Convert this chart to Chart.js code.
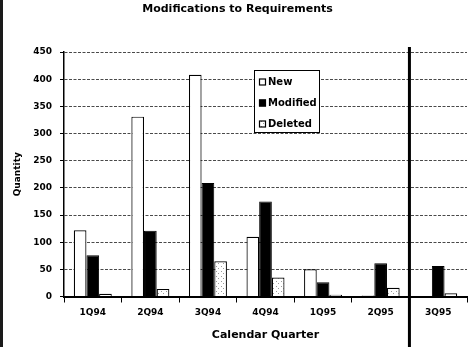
<!DOCTYPE html>
<html>
<head>
<meta charset="utf-8">
<title>Modifications to Requirements</title>
<script src="https://cdn.jsdelivr.net/npm/chart.js@4.4.1/dist/chart.umd.min.js"></script>
<style>
  html, body { margin: 0; padding: 0; background: #ffffff; }
  canvas { display: block; }
</style>
</head>
<body>
<canvas id="chart" width="475" height="347"></canvas>
<script>
// Requirement changes per calendar quarter
const quarters = ['1Q94', '2Q94', '3Q94', '4Q94', '1Q95', '2Q95', '3Q95'];
const newCounts = [122, 331, 408, 110, 50, 2, 0];
const modifiedCounts = [76, 121, 209, 175, 26, 61, 56];
const deletedCounts = [5, 14, 65, 35, 3, 16, 6];
const quantityTicks = [0, 50, 100, 150, 200, 250, 300, 350, 400, 450];

// Light stipple fill used for the "Deleted" series
function stipple() {
  const c = document.createElement('canvas');
  c.width = 5; c.height = 5;
  const g = c.getContext('2d');
  g.fillStyle = '#ffffff';
  g.fillRect(0, 0, 5, 5);
  g.fillStyle = '#9a9a9a';
  g.fillRect(1, 1, 1, 1);
  g.fillRect(3, 3, 1, 1);
  return g.createPattern(c, 'repeat');
}
const deletedFill = stipple();

Chart.defaults.font.family = "'DejaVu Sans', sans-serif";
Chart.defaults.font.weight = 'bold';
Chart.defaults.color = '#000000';

// Heavy divider between 2Q95 and 3Q95, plus the dark left frame edge
const dividerPlugin = {
  id: 'divider',
  afterDatasetsDraw(chart) {
    const { ctx, scales: { x } } = chart;
    const xPos = (x.getPixelForValue(5) + x.getPixelForValue(6)) / 2;
    ctx.save();
    ctx.strokeStyle = '#000000';
    ctx.lineWidth = 3;
    ctx.beginPath();
    ctx.moveTo(xPos, 47);
    ctx.lineTo(xPos, chart.height);
    ctx.stroke();
    ctx.fillStyle = '#1a1a1a';
    ctx.fillRect(0, 0, 3, chart.height);
    ctx.restore();
  }
};

// Boxed legend inside the plot
const boxLegendPlugin = {
  id: 'boxLegend',
  afterDraw(chart) {
    const { ctx } = chart;
    const left = 254.5, top = 70.5, w = 65, h = 62;
    ctx.save();
    ctx.fillStyle = '#ffffff';
    ctx.fillRect(left, top, w, h);
    ctx.strokeStyle = '#000000';
    ctx.lineWidth = 1;
    ctx.strokeRect(left, top, w, h);
    ctx.font = "bold 10px 'DejaVu Sans', sans-serif";
    ctx.textBaseline = 'middle';
    ctx.textAlign = 'left';
    chart.data.datasets.forEach((ds, i) => {
      const cy = 82 + i * 21;
      ctx.fillStyle = ds.backgroundColor;
      ctx.fillRect(259, cy - 3.5, 7, 7);
      ctx.strokeStyle = '#000000';
      ctx.lineWidth = 1.2;
      ctx.strokeRect(259.5, cy - 3, 6, 6);
      ctx.fillStyle = '#000000';
      ctx.fillText(ds.label, 268, cy + 0.5);
    });
    ctx.restore();
  }
};

new Chart(document.getElementById('chart'), {
  type: 'bar',
  data: {
    labels: quarters,
    datasets: [
      { label: 'New', data: newCounts, backgroundColor: '#ffffff', borderColor: '#000000', borderWidth: 1.2 },
      { label: 'Modified', data: modifiedCounts, backgroundColor: '#000000', borderColor: '#000000', borderWidth: 1 },
      { label: 'Deleted', data: deletedCounts, backgroundColor: deletedFill, borderColor: '#000000', borderWidth: 1.2 }
    ]
  },
  options: {
    responsive: false,
    devicePixelRatio: 1,
    animation: false,
    events: [],
    categoryPercentage: 0.66,
    barPercentage: 1,
    layout: { padding: { left: 8, right: 8, top: 0, bottom: 0 } },
    plugins: {
      legend: { display: false },
      tooltip: { enabled: false },
      title: {
        display: true,
        text: 'Modifications to Requirements',
        color: '#000000',
        font: { size: 11, weight: 'bold' },
        padding: { top: 3, bottom: 35.8 }
      }
    },
    scales: {
      x: {
        afterFit(scale) { scale.height = 50.5; },
        grid: {
          display: true,
          drawOnChartArea: false,
          drawTicks: true,
          tickLength: 6,
          tickColor: '#000000',
          tickWidth: 1
        },
        border: { display: true, color: '#000000', width: 2 },
        ticks: { padding: 5, font: { size: 9, weight: 'bold' }, color: '#000000', maxRotation: 0 },
        title: {
          display: true,
          text: 'Calendar Quarter',
          color: '#000000',
          font: { size: 11, weight: 'bold' },
          padding: { top: 0, bottom: 5.4 }
        }
      },
      y: {
        min: 0,
        max: 450,
        afterFit(scale) { scale.width = 56; },
        afterBuildTicks(scale) { scale.ticks = quantityTicks.map(v => ({ value: v })); },
        grid: {
          color: (c) => (c.tick && c.tick.value === 0 ? 'rgba(0,0,0,0)' : '#4a4a4a'),
          lineWidth: 1,
          tickLength: 4,
          tickColor: '#000000',
          tickBorderDash: []
        },
        border: { display: true, color: '#000000', width: 1.5, dash: [3, 1.5] },
        ticks: { padding: 8, font: { size: 9, weight: 'bold' }, color: '#000000' },
        title: {
          display: true,
          text: 'Quantity',
          color: '#000000',
          font: { size: 9, weight: 'bold' },
          padding: { top: 4, bottom: 0 }
        }
      }
    }
  },
  plugins: [dividerPlugin, boxLegendPlugin]
});
</script>
</body>
</html>
